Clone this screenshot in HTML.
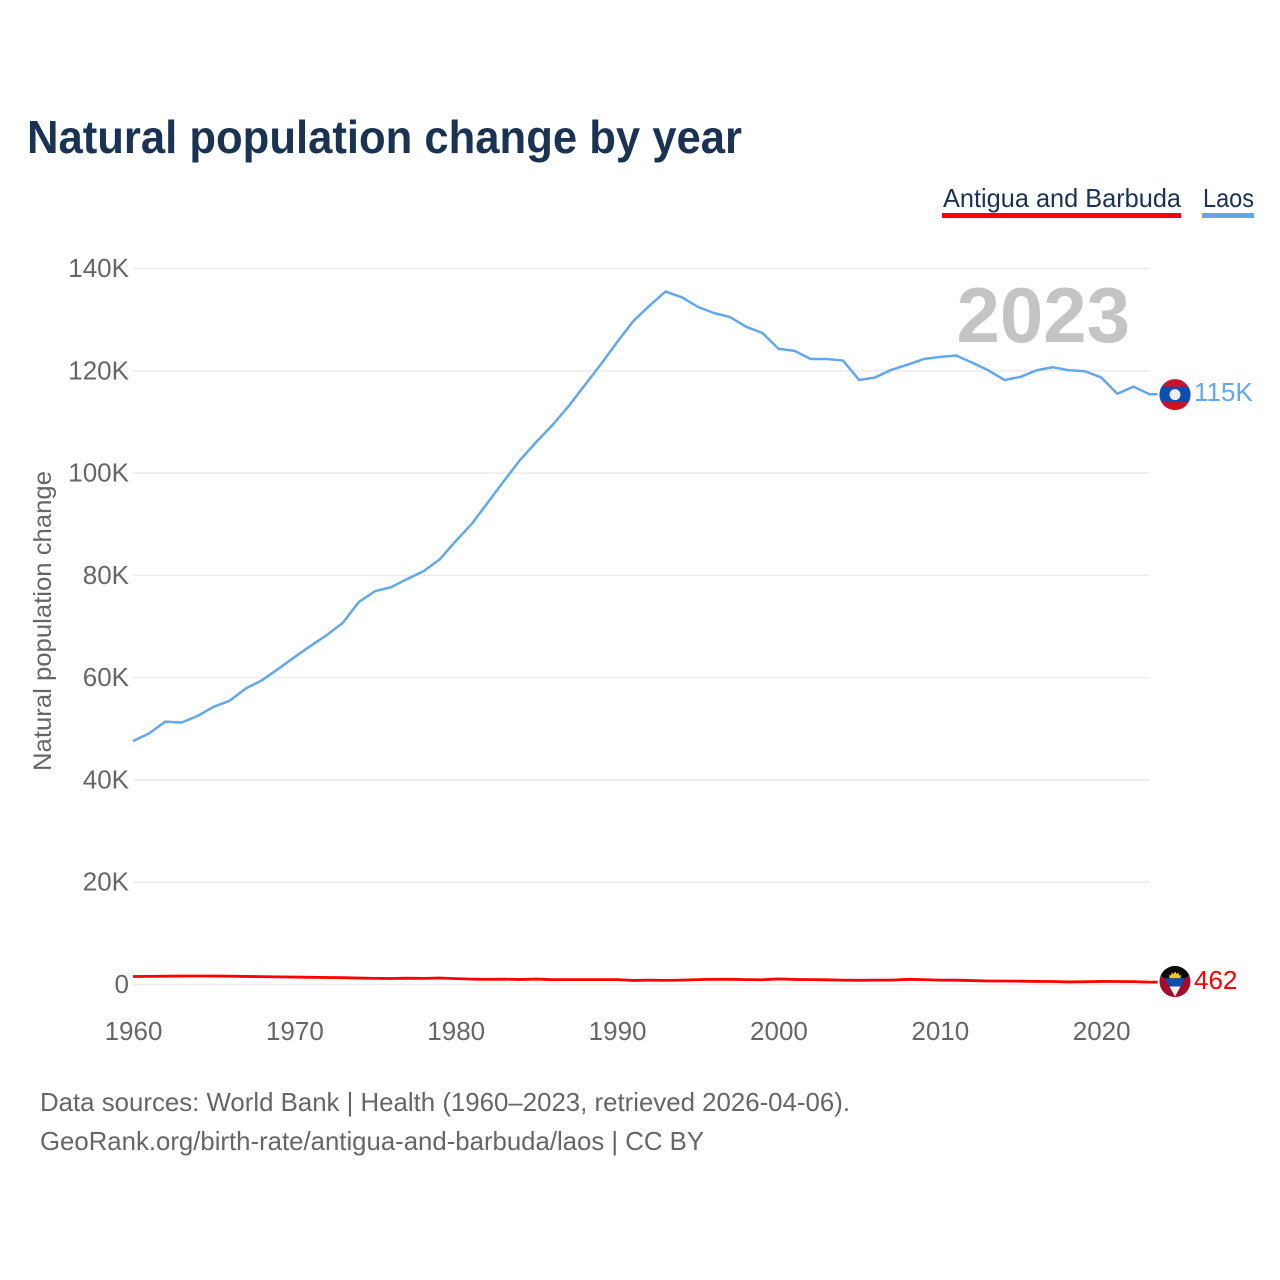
<!DOCTYPE html>
<html lang="en">
<head>
<meta charset="utf-8">
<title>Natural population change by year</title>
<style>
html,body{margin:0;padding:0;background:#fff;}
#chart{display:block;width:1280px;height:1280px;font-family:"Liberation Sans",sans-serif;}
</style>
</head>
<body>
<svg id="chart" width="1280" height="1280" viewBox="0 0 1280 1280" xmlns="http://www.w3.org/2000/svg">
  <defs>
    <clipPath id="flag-clip"><circle cx="0" cy="0" r="15.5"></circle></clipPath>
  </defs>
  <rect width="1280" height="1280" fill="#fff"></rect>
  <text x="27" y="153" font-size="46" font-weight="700" fill="#1a3352" textLength="715" lengthAdjust="spacingAndGlyphs">Natural population change by year</text>

  <g>
    <g>
      <text x="943" y="207" font-size="26" fill="#1a3352" textLength="238" lengthAdjust="spacingAndGlyphs">Antigua and Barbuda</text>
      <rect x="942" y="213" width="239" height="5" fill="#ff0000"></rect>
    </g>
    <g>
      <text x="1203" y="207" font-size="26" fill="#1a3352" textLength="51" lengthAdjust="spacingAndGlyphs">Laos</text>
      <rect x="1202" y="213" width="52" height="5" fill="#63a8ea"></rect>
    </g>
  </g>

  <g id="grid"></g>
  <g id="y-axis"></g>
  <g id="x-axis"></g>

  <text transform="translate(51 621) rotate(-90)" text-anchor="middle" font-size="25" fill="#666" textLength="300" lengthAdjust="spacingAndGlyphs">Natural population change</text>
  <text x="1130" y="342" text-anchor="end" font-size="78" font-weight="700" fill="#c4c4c4">2023</text>

  <g id="series"></g>

  <g id="flag-laos">
    <g clip-path="url(#flag-clip)">
      <rect x="-16" y="-16" width="32" height="32" fill="#ce1126"></rect>
      <rect x="-16" y="-8" width="32" height="15.5" fill="#0a4fb0"></rect>
      <circle cx="0" cy="0" r="5.5" fill="#eeeeee"></circle>
    </g>
  </g>
  <g id="flag-antigua">
    <g clip-path="url(#flag-clip)">
      <rect x="-16" y="-16" width="32" height="32" fill="#a50a2a"></rect>
      <polygon points="-16,-16 16,-16 16,-7 10,-3.3 -10,-3.3 -16,-7" fill="#0a0a0a"></polygon>
      <polygon points="-5.5,-3.3 -6,-6.5 -4,-6 -3.5,-9 -1.5,-7.5 0,-10 1.5,-7.5 3.5,-9 4,-6 6,-6.5 5.5,-3.3" fill="#f5c518"></polygon>
      <polygon points="-10,-3.3 10,-3.3 5.5,5 -5.5,5" fill="#0a4fb0"></polygon>
      <polygon points="-5.5,5 5.5,5 0,15" fill="#f2f2f2"></polygon>
    </g>
  </g>

  <text id="label-laos" x="1194" font-size="26" fill="#63a8ea"></text>
  <text id="label-antigua" x="1194" font-size="26" fill="#ff0000"></text>

  <g>
    <text x="40" y="1111" font-size="26" fill="#666" textLength="810" lengthAdjust="spacingAndGlyphs">Data sources: World Bank | Health (1960–2023, retrieved 2026-04-06).</text>
    <text x="40" y="1150" font-size="26" fill="#666" textLength="664" lengthAdjust="spacingAndGlyphs">GeoRank.org/birth-rate/antigua-and-barbuda/laos | CC BY</text>
  </g>
</svg>
<script>
const firstYear = 1960;
const yearTicks = [1960, 1970, 1980, 1990, 2000, 2010, 2020];
const valueTicks = [0, 20000, 40000, 60000, 80000, 100000, 120000, 140000];
const valueTickLabels = ['0', '20K', '40K', '60K', '80K', '100K', '120K', '140K'];
const laosValues = [47600, 49100, 51400, 51200, 52500, 54300, 55500, 57900, 59500, 61700,
  64000, 66200, 68300, 70700, 74800, 76900, 77700, 79300, 80800, 83100,
  86700, 90100, 94300, 98500, 102600, 106100, 109400, 113100, 117200, 121300,
  125600, 129700, 132700, 135500, 134400, 132500, 131300, 130500, 128600, 127400,
  124300, 123900, 122300, 122300, 122000, 118200, 118700, 120200, 121200, 122300,
  122700, 123000, 121600, 120100, 118200, 118800, 120100, 120700, 120100, 119900,
  118700, 115500, 116900, 115400];
const antiguaValues = [1560, 1590, 1620, 1650, 1660, 1650, 1620, 1580, 1530, 1490,
  1450, 1410, 1370, 1330, 1260, 1200, 1170, 1230, 1200, 1270,
  1150, 1050, 1000, 1040, 980, 1060, 940, 950, 950, 960,
  950, 790, 850, 810, 850, 950, 1020, 1010, 950, 930,
  1090, 990, 960, 920, 860, 820, 860, 850, 1010, 960,
  850, 840, 770, 680, 680, 650, 600, 590, 500, 540,
  600, 590, 560, 462];

const SVG_NS = 'http://www.w3.org/2000/svg';
const plotLeft = 133, plotRight = 1149.6, yearSpan = 63;
const zeroY = 984.5, topY = 268.5, topValue = 140000;
function xScale(year) { return plotLeft + (year - firstYear) * (plotRight - plotLeft) / yearSpan; }
function yScale(value) { return zeroY - value * (zeroY - topY) / topValue; }
function formatValue(value) { return value >= 1000 ? Math.round(value / 1000) + 'K' : String(value); }
function make(tag, attrs, text) {
  const el = document.createElementNS(SVG_NS, tag);
  for (const key in attrs) el.setAttribute(key, attrs[key]);
  if (text !== undefined) el.textContent = text;
  return el;
}

const grid = document.getElementById('grid');
const yAxis = document.getElementById('y-axis');
valueTicks.forEach(function (tick, i) {
  const line = make('line', {x1: plotLeft, x2: plotRight, y1: yScale(tick), y2: yScale(tick), stroke: '#ececec', 'stroke-width': 1.5});
  
  
  grid.appendChild(line);
  const label = make('text', {x: 129, y: yScale(tick) + 8.5, 'text-anchor': 'end', 'font-size': 26, fill: '#666'}, valueTickLabels[i]);
  
  
  yAxis.appendChild(label);
});

const xAxis = document.getElementById('x-axis');
yearTicks.forEach(function (year) {
  const label = make('text', {x: xScale(year) + 0.5, y: 1040, 'text-anchor': 'middle', 'font-size': 26, fill: '#666'}, String(year));
  
  
  xAxis.appendChild(label);
});

function pointsFor(values) {
  return values.map(function (v, i) { return xScale(firstYear + i).toFixed(2) + ',' + yScale(v).toFixed(2); });
}
const seriesLayer = document.getElementById('series');

const laosLine = make('polyline', {points: pointsFor(laosValues).join(' ') + ' ' + (xScale(firstYear + laosValues.length - 1) + 8).toFixed(2) + ',' + yScale(laosValues[laosValues.length - 1]).toFixed(2), fill: 'none', stroke: '#63a8ea', 'stroke-width': 2.5, 'stroke-linejoin': 'round'});


seriesLayer.appendChild(laosLine);

const antiguaLine = make('polyline', {points: pointsFor(antiguaValues).join(' ') + ' ' + (xScale(firstYear + antiguaValues.length - 1) + 8).toFixed(2) + ',' + yScale(antiguaValues[antiguaValues.length - 1]).toFixed(2), fill: 'none', stroke: '#ff0000', 'stroke-width': 2.8, 'stroke-linejoin': 'round'});


seriesLayer.appendChild(antiguaLine);

const laosLast = laosValues[laosValues.length - 1];
const antiguaLast = antiguaValues[antiguaValues.length - 1];
const flagX = xScale(firstYear + yearSpan) + 25.4;
document.getElementById('flag-laos').setAttribute('transform', 'translate(' + flagX + ' ' + (yScale(laosLast) + 0.3) + ')');
document.getElementById('flag-antigua').setAttribute('transform', 'translate(' + flagX + ' ' + (yScale(antiguaLast) - 0.6) + ')');
const laosLabel = document.getElementById('label-laos');
laosLabel.setAttribute('y', yScale(laosLast) + 6.5);
laosLabel.textContent = formatValue(laosLast);
const antiguaLabel = document.getElementById('label-antigua');
antiguaLabel.setAttribute('y', yScale(antiguaLast) + 7);
antiguaLabel.textContent = formatValue(antiguaLast);
</script>
</body>
</html>
